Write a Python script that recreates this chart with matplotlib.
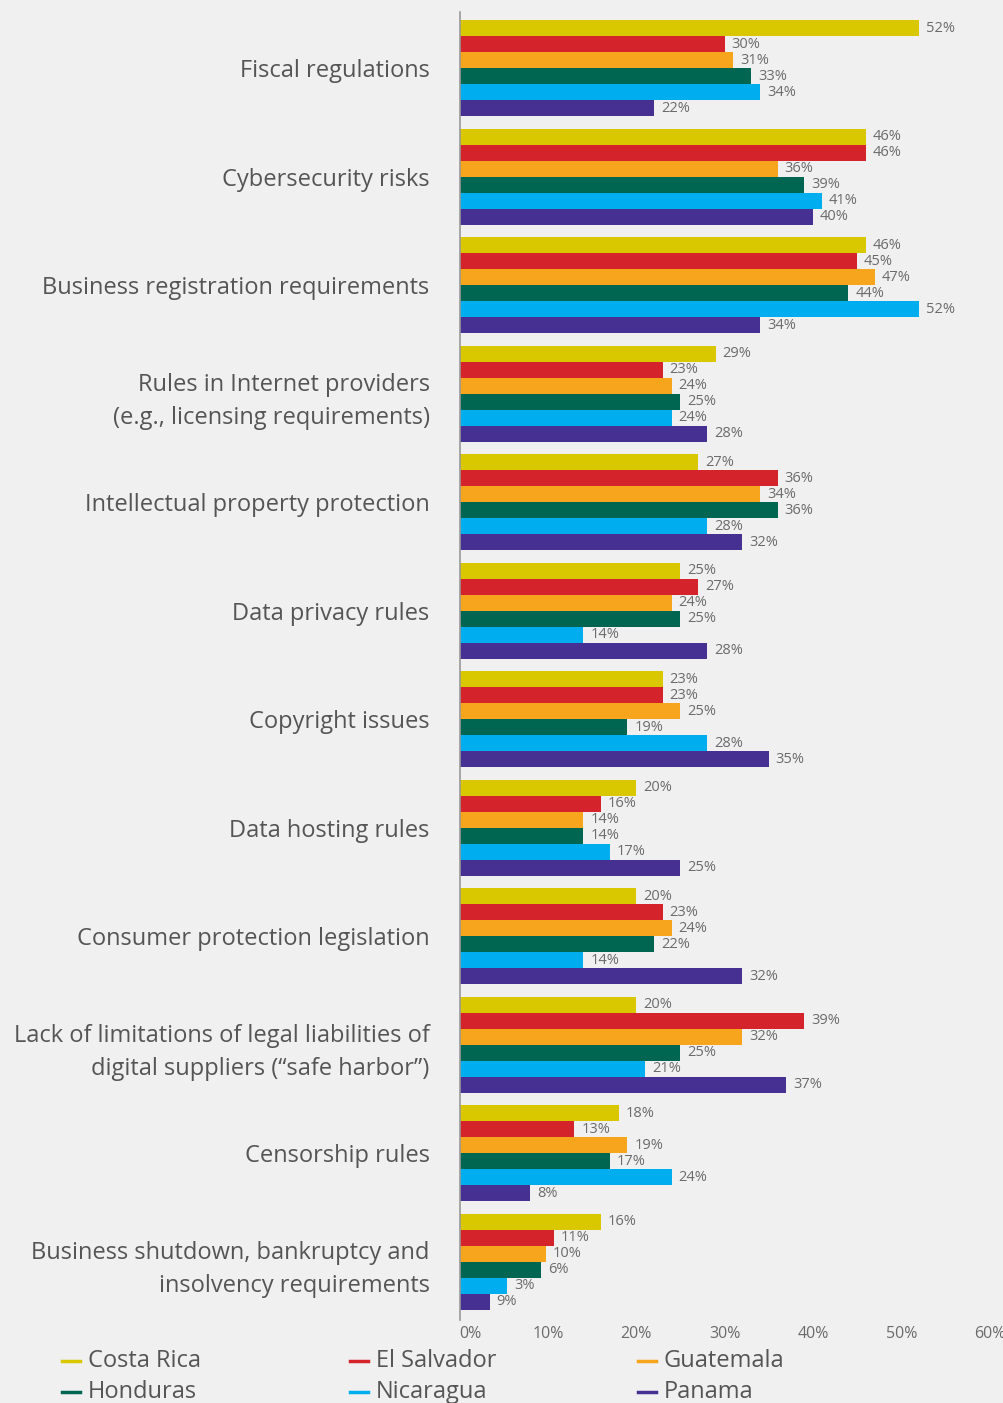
import numpy as np
import matplotlib
matplotlib.use("Agg")
from matplotlib import pyplot as plt
from matplotlib.lines import Line2D

categories = [
    "Fiscal regulations",
    "Cybersecurity risks",
    "Business registration requirements",
    "Rules in Internet providers\n(e.g., licensing requirements)",
    "Intellectual property protection",
    "Data privacy rules",
    "Copyright issues",
    "Data hosting rules",
    "Consumer protection legislation",
    "Lack of limitations of legal liabilities of\ndigital suppliers (\u201csafe harbor\u201d)",
    "Censorship rules",
    "Business shutdown, bankruptcy and\ninsolvency requirements",
]

countries = ["Costa Rica", "El Salvador", "Guatemala", "Honduras", "Nicaragua", "Panama"]
colors = ["#d9c800", "#d4232b", "#f7a51c", "#006652", "#00aeef", "#463192"]

costa_rica = [52, 46, 46, 29, 27, 25, 23, 20, 20, 20, 18, 16]
el_salvador = [30, 46, 45, 23, 36, 27, 23, 16, 23, 39, 13, 11]
guatemala = [31, 36, 47, 24, 34, 24, 25, 14, 24, 32, 19, 10]
honduras = [33, 39, 44, 25, 36, 25, 19, 14, 22, 25, 17, 6]
nicaragua = [34, 41, 52, 24, 28, 14, 28, 17, 14, 21, 24, 3]
panama = [22, 40, 34, 28, 32, 28, 35, 25, 32, 37, 8, 9]

# the source draws the last group with bar lengths that differ from its labels
shutdown_bars = [16, 10.7, 9.8, 9.2, 5.4, 3.4]

series = [costa_rica, el_salvador, guatemala, honduras, nicaragua, panama]
ticks = [0, 10, 20, 30, 40, 50, 60]

bg = "#f0f0f0"
txt = "#555555"
font = "Open Sans"

fig = plt.figure(figsize=(10.04, 14.03), dpi=100, facecolor=bg)
ax = fig.add_axes([459.6 / 1004, 83 / 1403, 530 / 1004, 1308 / 1403], facecolor=bg)

y = np.arange(len(categories))
h = 16 / 108.5
for j, (vals, c) in enumerate(zip(series, colors)):
    lengths = list(vals[:-1]) + [shutdown_bars[j]]
    bars = ax.barh(y + (j - 2.5) * h, lengths, height=h, color=c, linewidth=0)
    ax.bar_label(bars, labels=[f"{v}%" for v in vals], padding=5,
                 color="#6b6b6b", fontsize=10.5, family=font)

ax.set_xlim(0, 60)
ax.set_ylim(11 + 58 / 108.5, -56 / 108.5)
ax.set_yticks(y)
ax.set_yticklabels(categories, fontsize=17, color=txt, family=font,
                   linespacing=1.5)
ax.set_xticks(ticks)
ax.set_xticklabels([f"{t}%" for t in ticks], fontsize=11.5, color="#6b6b6b", family=font)
ax.get_xticklabels()[0].set_horizontalalignment("left")
ax.tick_params(axis="y", length=0, pad=21.5)
ax.tick_params(axis="x", length=0, pad=4)
for s in ["top", "right", "bottom"]:
    ax.spines[s].set_visible(False)
ax.spines["left"].set_color("#999999")
ax.spines["left"].set_linewidth(1.2)

# legend, two rows of three
for i, (name, c) in enumerate(zip(countries, colors)):
    r, col = divmod(i, 3)
    x0 = (62 + col * 288) / 1004
    yy = 1 - (1361 + r * 31) / 1403
    fig.add_artist(Line2D([x0, x0 + 18 / 1004], [yy, yy], color=c, lw=2.5,
                          transform=fig.transFigure))
    fig.text(x0 + 26 / 1004, yy, name, fontsize=17, color=txt, family=font,
             va="center", ha="left")

fig.savefig("out.png", dpi=100, facecolor=bg)
